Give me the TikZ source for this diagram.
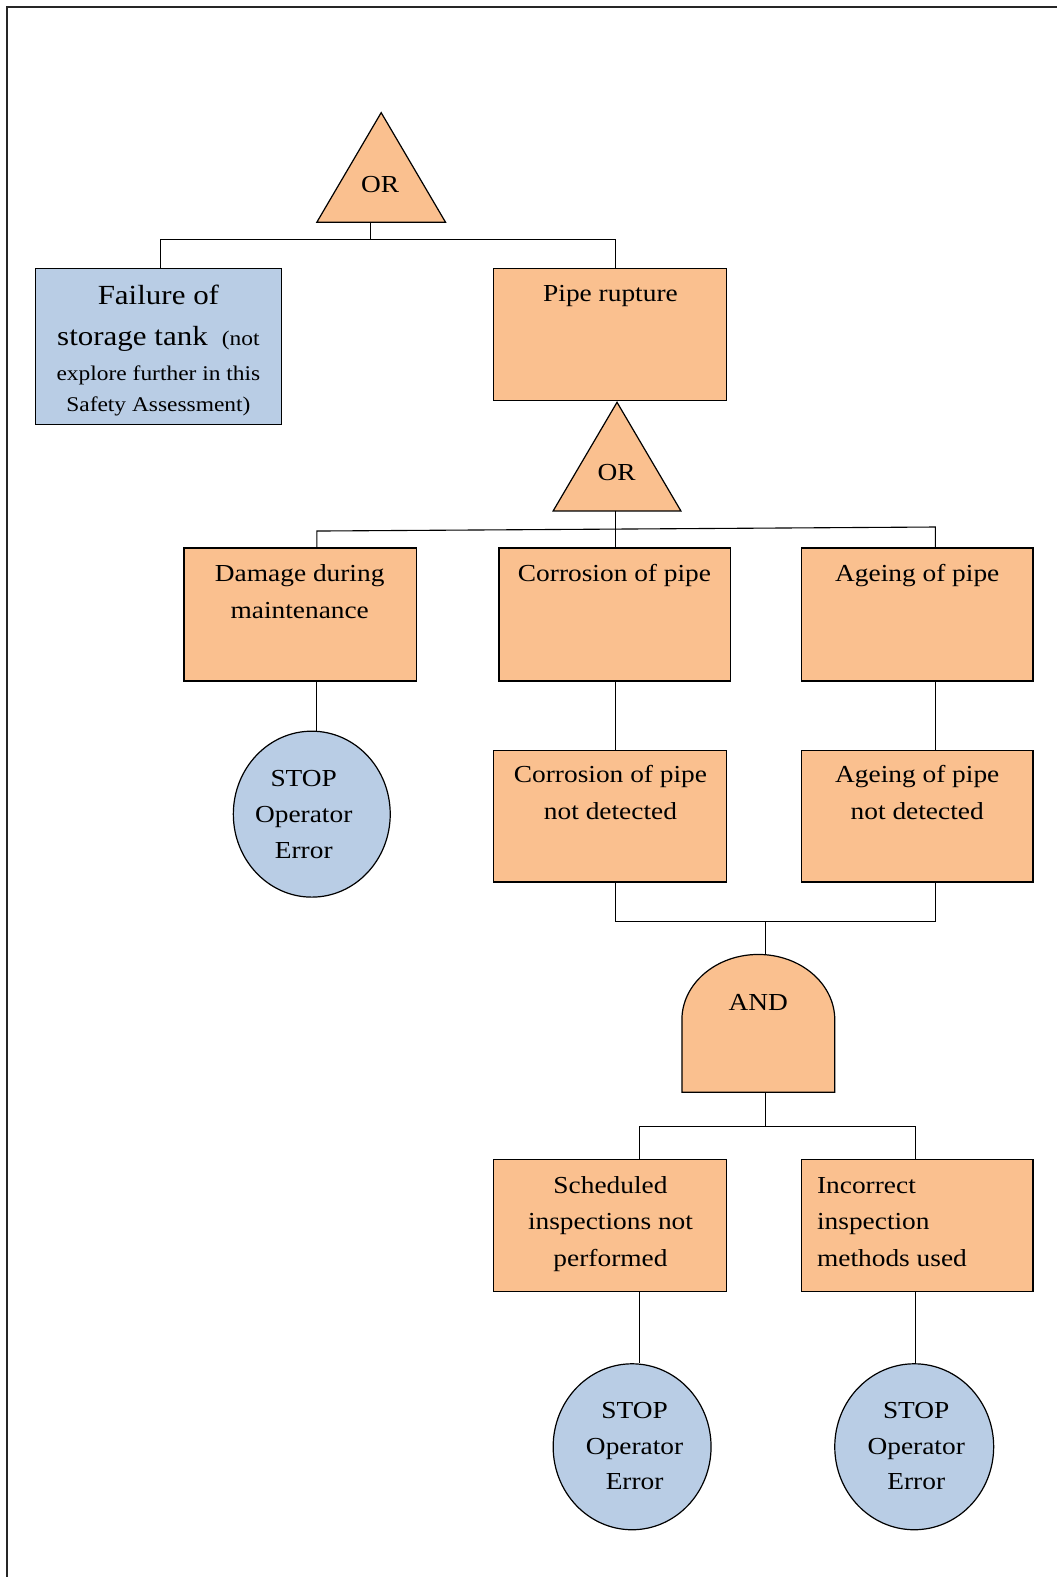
\documentclass[tikz,border=0pt]{standalone}
\usepackage{fontspec}
\setmainfont{Liberation Serif}[FakeStretch=1.12]
\usetikzlibrary{shapes.geometric}
\definecolor{gateorange}{RGB}{250,192,143}
\definecolor{eventblue}{RGB}{185,205,229}
\newcommand{\boxsz}{\fontsize{12.15pt}{18.2pt}\selectfont}
\newcommand{\circsz}{\fontsize{12.15pt}{17.75pt}\selectfont}
\newcommand{\bigsz}{\fontsize{13.75pt}{16pt}\selectfont}
\newcommand{\smlsz}{\fontsize{10.4pt}{12pt}\selectfont}
\newcommand{\topstrut}{\rule{0pt}{10pt}}
\begin{document}
\begin{tikzpicture}[x=0.5pt,y=-0.5pt,
  evbox/.style={draw=black, fill=gateorange, rectangle, inner sep=0pt,
                minimum width=115.5pt, minimum height=65.5pt, line width=0.65pt},
  basic/.style={draw=black, fill=eventblue, ellipse, inner sep=0pt, line width=0.6pt},
  gate/.style={draw=black, fill=gateorange, line width=0.6pt, line join=miter},
  boxtext/.style={inner sep=0pt, anchor=north, align=center, font=\boxsz},
  circtext/.style={inner sep=0pt, anchor=north, align=center, font=\circsz},
  wire/.style={draw=black, line width=0.55pt}]

\useasboundingbox (0,0) rectangle (1050,1568);

% page frame
\draw[line width=1pt, black!85] (7,1600) -- (7,7) -- (1100,7);

% ---- top OR gate ----
\draw[gate] (315,221) -- (379,112) -- (443,221) -- cycle;
\node[inner sep=0pt, anchor=base, font=\boxsz] (or1t) at (378,191.5) {OR};
\coordinate (or1out) at (368,221);
\coordinate (j1) at (368,238);

% ---- first level events ----
\node[evbox, fill=eventblue, minimum width=122.5pt, minimum height=77.5pt] (fail) at (157.5,344.5) {};
\node[inner sep=0pt, anchor=base, font=\bigsz] (failA) at (157.5,302.6) {Failure of};
\node[inner sep=0pt, anchor=base, font=\bigsz] (failB) at (157.5,344) {storage tank\hspace{7pt}{\smlsz(not}};
\node[inner sep=0pt, anchor=base, font=\smlsz] (failC) at (157.5,378) {explore further in this};
\node[inner sep=0pt, anchor=base, font=\smlsz] (failD) at (157.5,409.4) {Safety Assessment)};

\node[evbox] (pipe) at (606.5,332.5) {};
\node[boxtext] (pipet) at (607,279) {\topstrut Pipe rupture};

\draw[wire] (or1out) -- (j1);
\draw[wire] ([xshift=1.25pt]fail.north) |- (j1) -| ([xshift=2.75pt]pipe.north);

% ---- second OR gate ----
\draw[gate] (550,508) -- (613.5,400) -- (677,508) -- cycle;
\node[inner sep=0pt, anchor=base, font=\boxsz] (or2t) at (613,477.5) {OR};
\coordinate (or2out) at (612,508);
\coordinate (bl) at (315,528);
\coordinate (br) at (930,524);

% ---- second level events ----
\node[evbox, minimum height=66pt] (dam) at (298.5,611) {};
\node[boxtext] (damt) at (298,558) {\topstrut Damage during\\maintenance};
\node[evbox, minimum width=115pt, minimum height=66pt] (cor) at (611,611) {};
\node[boxtext] (cort) at (611,558) {\topstrut Corrosion of pipe};
\node[evbox, minimum width=115pt, minimum height=66pt] (age) at (912,611) {};
\node[boxtext] (aget) at (912,558) {\topstrut Ageing of pipe};

\draw[wire] (or2out) -- ([xshift=0.5pt]cor.north);
\draw[wire] ([xshift=8.25pt]dam.north) -- (bl) -- (br) -- ([xshift=9pt]age.north);

% ---- operator error under damage ----
\node[basic, minimum width=78pt, minimum height=82.5pt] (stop1) at (310,809.5) {};
\node[circtext] (stop1t) at (302,762) {\topstrut STOP\\Operator\\Error};
\draw[wire] ([xshift=8.25pt]dam.south) -- ([xshift=8.25pt]dam.south |- stop1.north);

% ---- detection events ----
\node[evbox] (cornd) at (606.5,811.5) {};
\node[boxtext] (corndt) at (607,758) {\topstrut Corrosion of pipe\\not detected};
\node[evbox, minimum width=115pt] (agend) at (912,811.5) {};
\node[boxtext] (agendt) at (912,758) {\topstrut Ageing of pipe\\not detected};

\draw[wire] ([xshift=0.5pt]cor.south) -- ([xshift=0.5pt]cor.south |- cornd.north);
\draw[wire] ([xshift=9pt]age.south) -- ([xshift=9pt]age.south |- agend.north);

% ---- AND gate ----
\coordinate (j2) at (761,916);
\coordinate (andtop) at (761,949);
\coordinate (andbot) at (761,1086);
\coordinate (j3) at (761,1120);
\draw[gate] (678,1086) -- (678,1014)
  arc[start angle=180, end angle=0, x radius=38pt, y radius=32.5pt]
  -- (830,1086) -- cycle;
\node[inner sep=0pt, anchor=base, font=\boxsz] (andt) at (754,1005) {AND};

\draw[wire] ([xshift=2.75pt]cornd.south) |- (j2) -| ([xshift=9pt]agend.south);
\draw[wire] (j2) -- (andtop);
\draw[wire] (andbot) -- (j3);

% ---- inspection events ----
\node[evbox] (sched) at (606.5,1218.5) {};
\node[boxtext] (schedt) at (607,1166) {\topstrut Scheduled\\inspections not\\performed};
\node[evbox, minimum width=115pt] (incor) at (912,1218.5) {};
\node[boxtext, anchor=north west, align=left] (incort) at (812,1166) {\topstrut Incorrect\\inspection\\methods used};

\draw[wire] ([xshift=14.75pt]sched.north) |- (j3) -| ([xshift=-1pt]incor.north);

% ---- operator errors under inspections ----
\node[basic, minimum width=78.5pt, minimum height=82.5pt] (stop2) at (628.5,1438.5) {};
\node[circtext] (stop2t) at (631,1390) {\topstrut STOP\\Operator\\Error};
\node[basic, minimum width=79pt, minimum height=82.5pt] (stop3) at (909,1438.5) {};
\node[circtext] (stop3t) at (911,1390) {\topstrut STOP\\Operator\\Error};

\draw[wire] ([xshift=14.75pt]sched.south) -- ([xshift=14.75pt]sched.south |- stop2.north);
\draw[wire] ([xshift=-1pt]incor.south) -- ([xshift=-1pt]incor.south |- stop3.north);

\end{tikzpicture}
\end{document}
